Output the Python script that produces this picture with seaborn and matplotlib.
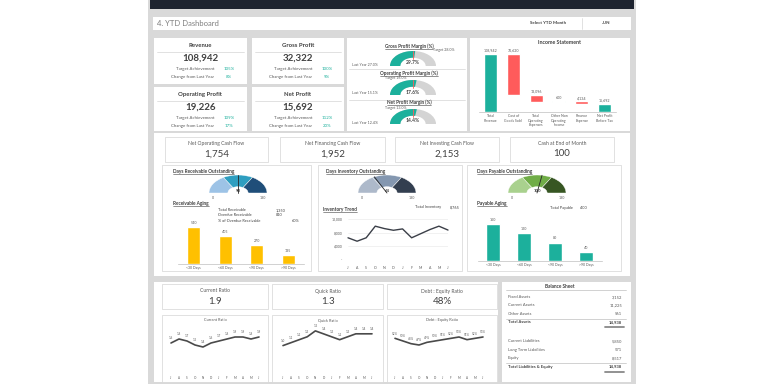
"""YTD finance dashboard, rebuilt with seaborn + matplotlib patches."""
import matplotlib
matplotlib.use("Agg")
import matplotlib.pyplot as plt
from matplotlib.patches import Rectangle, Wedge
import numpy as np
import pandas as pd
import seaborn as sns

sns.set_theme(style="white")
plt.rcParams["font.family"] = ["Lato", "DejaVu Sans"]

# ---- data -----------------------------------------------------------------
kpi_names = ["Revenue", "Gross Profit", "Operating Profit", "Net Profit"]
kpi_values = [108942, 32322, 19226, 15692]
kpi_target = [105, 100, 109, 112]
kpi_change = [8, 9, 17, 20]

margin_names = ["Gross Profit Margin (%)", "Operating Profit Margin (%)",
                "Net Profit Margin (%)"]
margin_actual = [29.7, 17.6, 14.4]
margin_target = [28.0, 16.0, 13.0]
margin_last = [27.0, 15.1, 12.4]

is_items = ["Total\nRevenue", "Cost of\nGoods Sold", "Total\nOperating\nExpenses",
            "Other Non\nOperating\nIncome", "Finance\nExpense", "Net Profit\nBefore Tax"]
is_amounts = [108942, -76620, -13096, 600, -4134, 15692]
is_is_total = [True, False, False, False, False, True]

cash_names = ["Net Operating Cash Flow", "Net Financing Cash Flow",
              "Net Investing Cash Flow", "Cash at End of Month"]
cash_values = [1754, 1952, 2153, 100]

aging_cats = ["<30 Days", "<60 Days", "<90 Days", ">90 Days"]
receivable_aging = [540, 405, 270, 135]
receivable_info = [("Total Receivable", "1,350"), ("Overdue Receivable", "810"),
                   ("% of Overdue Receivable", "60%")]
payable_aging = [160, 120, 80, 40]
total_payable = 400

dial_max = 180
dro_value, dio_value, dpo_value = 90, 64, 100

months = ["J", "A", "S", "O", "N", "D", "J", "F", "M", "A", "M", "J"]
inventory_trend = [6500, 5500, 6500, 9900, 9200, 8700, 9100, 6500, 7700, 8900, 9900, 8765]
total_inventory = 8765

ratio_names = ["Current Ratio", "Quick Ratio", "Debt : Equity Ratio"]
ratio_values = ["1.9", "1.3", "48%"]
current_ratio = [1.6, 1.8, 1.7, 1.5, 1.4, 1.6, 1.7, 1.8, 1.9, 1.9, 1.8, 1.9]
quick_ratio = [1.0, 1.1, 1.2, 1.3, 1.5, 1.4, 1.3, 1.2, 1.3, 1.4, 1.4, 1.4]
debt_equity = [52, 50, 48, 47, 49, 50, 51, 52, 53, 51, 52, 53]

bs_assets = [("Fixed Assets", 3152), ("Current Assets", 11225), ("Other Assets", 561)]
bs_total_assets = 14938
bs_liab = [("Current Liabilities", 5850), ("Long Term Liabilities", 571), ("Equity", 8517)]
bs_total_liab = 14938

# ---- style ----------------------------------------------------------------
TEAL, RED, GOLD = "#1cb09c", "#ff5b5b", "#ffc000"
BG, DARK, MID, LIGHT = "#d9d9d9", "#404040", "#595959", "#d4d4d4"
W, H = 768, 384

fig = plt.figure(figsize=(7.68, 3.84), dpi=100, facecolor="white")
bg = fig.add_axes([0, 0, 1, 1])
bg.set_xlim(0, W)
bg.set_ylim(H, 0)
bg.axis("off")


def box(x, y, w, h, fc="white", ec="none", lw=0.5):
    bg.add_patch(Rectangle((x, y), w, h, fc=fc, ec=ec, lw=lw))


def txt(x, y, s, size=3.5, color=MID, **kw):
    return bg.text(x, y, s, fontsize=size, color=color, va="center", **kw)


def hline(x0, x1, y, color=LIGHT, lw=0.5):
    bg.plot([x0, x1], [y, y], color=color, lw=lw)


def utxt(x, y, s, size=3.5, color=DARK, **kw):
    t = txt(x, y, s, size, color, **kw)
    bb = t.get_window_extent(renderer=fig.canvas.get_renderer())
    (x0, y0), (x1, y1) = bg.transData.inverted().transform(
        [[bb.x0, bb.y0], [bb.x1, bb.y1]])
    hline(x0, x1, max(y0, y1) + 0.4, color=color, lw=0.4)


def px_axes(x, y, w, h):
    return fig.add_axes([x / W, 1 - (y + h) / H, w / W, h / H])


def half_axes(cx, base, rx, ry):
    ax = px_axes(cx - rx, base - ry, 2 * rx, ry)
    ax.set_xlim(-1, 1)
    ax.set_ylim(0, 1)
    ax.axis("off")
    return ax


# ---- frame ----------------------------------------------------------------
box(148, 0, 488, 384, fc=BG)
box(150, 0, 484, 9, fc="#1e2430")
box(153, 17, 478, 13)
txt(157, 23.5, "4. YTD Dashboard", 5.5, "#7f7f7f")
txt(548, 23.5, "Select YTD Month", 3.2, DARK, ha="center", weight="bold")
bg.plot([582, 582], [18, 29], color=LIGHT, lw=0.5)
txt(606, 23.5, "JUN", 3.2, DARK, ha="center", weight="bold")

# ---- KPI cards --------------------------------------------------------------
cards = [(154, 38, 93, 46), (252, 38, 92, 46), (154, 87, 93, 44), (252, 87, 92, 44)]
for (x, y, w, h), name, val, tgt, chg in zip(cards, kpi_names, kpi_values,
                                             kpi_target, kpi_change):
    box(x, y, w, h)
    txt(x + w / 2, y + 7.5, name, 4.3, DARK, ha="center", weight="bold")
    hline(x + 3, x + w - 3, y + 14)
    txt(x + w / 2, y + 20.5, f"{val:,}", 7, DARK, ha="center", weight="bold")
    txt(x + 60, y + 31, "Target Achievement", 3.2, MID, ha="right")
    txt(x + 75, y + 31, f"{tgt}%", 3.2, TEAL, ha="center")
    txt(x + 60, y + 39, "Change from Last Year", 3.2, MID, ha="right")
    txt(x + 75, y + 39, f"{chg}%", 3.2, TEAL, ha="center")

# ---- margin gauges ----------------------------------------------------------
box(347, 38, 120, 93)
hline(349, 465, 68.5)
hline(349, 465, 99.5)
title_y = [46, 73, 102]
base_y = [66, 95, 124]
for i, (name, act, tgt, last) in enumerate(zip(margin_names, margin_actual,
                                               margin_target, margin_last)):
    utxt(409, title_y[i], name, 3.4, DARK, ha="center", weight="bold")
    ax = half_axes(413, base_y[i], 23, 15)
    frac = act / (2 * tgt)
    ax.add_patch(Wedge((0, 0), 1, 0, 180, width=0.45, fc=LIGHT, ec="none"))
    ax.add_patch(Wedge((0, 0), 1, 180 * (1 - frac), 180, width=0.45, fc=TEAL, ec="none"))
    ax.plot([0, 0], [0.5, 1.0], color=RED, lw=0.6)
    txt(413, base_y[i] - 3, f"{act:.1f}%", 3.6, DARK, ha="center", weight="bold")
    txt(352, base_y[i] - 1.5, f"Last Year {last:.1f}%", 2.6, MID)
    if i == 0:
        txt(433, base_y[i] - 15.5, f"Target {tgt:.1f}%", 2.6, MID)
    else:
        txt(406, base_y[i] - 16.5, f"Target {tgt:.1f}%", 2.6, MID, ha="right")

# ---- income statement waterfall ----------------------------------------------
box(470, 38, 160, 93)
txt(560, 42.5, "Income Statement", 3.8, DARK, ha="center", weight="bold")
bottoms, heights, running = [], [], 0
for amt, is_total in zip(is_amounts, is_is_total):
    if is_total:
        bottoms.append(0)
        heights.append(amt)
        running = amt
    else:
        new = running + amt
        bottoms.append(min(running, new))
        heights.append(abs(amt))
        running = new
wf = pd.DataFrame({"item": is_items, "height": heights, "bottom": bottoms})
ax = px_axes(479, 50, 137, 62)
sns.barplot(data=wf, x="item", y="height", bottom=wf["bottom"].values,
            color=TEAL, saturation=1, width=0.57, ax=ax)
for p, amt, is_total in zip(ax.patches, is_amounts, is_is_total):
    p.set_facecolor(TEAL if is_total or amt > 0 else RED)
for p, amt in zip(ax.patches, is_amounts):
    ax.text(p.get_x() + p.get_width() / 2, p.get_y() + p.get_height() + 2500,
            f"{abs(amt):,}", ha="center", va="bottom", fontsize=2.6, color=MID)
ax.set_ylim(0, 116500)
ax.set_xlim(-0.5, len(is_items) - 0.5)
ax.set_xlabel("")
ax.set_ylabel("")
ax.set_yticks([])
ax.tick_params(axis="x", labelsize=2.5, colors=MID, length=0, pad=1.5)
sns.despine(ax=ax, left=True)
ax.spines["bottom"].set_color("#bfbfbf")
ax.spines["bottom"].set_linewidth(0.5)
ax.patch.set_alpha(0)

# ---- cash flow + operating panels --------------------------------------------
box(154, 133, 476, 143)
cash_boxes = [(165, 137, 103, 25), (280, 137, 105, 25), (395, 137, 104, 25),
              (510, 137, 104, 25)]
for (x, y, w, h), name, val in zip(cash_boxes, cash_names, cash_values):
    box(x, y, w, h, ec=LIGHT)
    txt(x + w / 2, y + 6.5, name, 3.6, MID, ha="center")
    txt(x + w / 2, y + 17, f"{val:,}", 7, DARK, ha="center")

box(162, 165, 149, 106, ec=LIGHT)
box(318, 165, 144, 106, ec=LIGHT)
box(467, 165, 154, 106, ec=LIGHT)


def dial(cx, name_x, title, colors, value):
    utxt(name_x, 171, title, 3.4, DARK, weight="bold")
    ax = half_axes(cx, 193, 29, 18)
    edges = np.linspace(180, 0, len(colors) + 1)
    for c, a0, a1 in zip(colors, edges[:-1], edges[1:]):
        ax.add_patch(Wedge((0, 0), 1, a1, a0, width=0.65, fc=c, ec="white", lw=0.3))
    ang = np.deg2rad(180 * (1 - value / dial_max))
    ax.plot([0, np.cos(ang)], [0, np.sin(ang)], color="#262626", lw=0.6, clip_on=False)
    txt(cx, 191.5, f"{value}", 3.2, DARK, ha="center", weight="bold")
    txt(cx - 25, 198, "0", 2.6, MID, ha="center")
    txt(cx + 25, 198, f"{dial_max}", 2.6, MID, ha="center")


def aging_bars(x0, x1, y_base, vals, color, top):
    ax = px_axes(x0, y_base - 49, x1 - x0, 49)
    sns.barplot(x=aging_cats, y=vals, color=color, saturation=1, width=0.42, ax=ax)
    ax.bar_label(ax.containers[0], fontsize=2.6, color=MID, padding=1.5)
    ax.set_ylim(0, top)
    ax.set_yticks([])
    ax.tick_params(axis="x", labelsize=2.5, colors=MID, length=0, pad=1.5)
    sns.despine(ax=ax, left=True)
    ax.spines["bottom"].set_color("#bfbfbf")
    ax.spines["bottom"].set_linewidth(0.5)
    ax.patch.set_alpha(0)


# receivables
dial(238, 173, "Days Receivable Outstanding", ["#9dc3e6", "#2e9ec0", "#1f4e79"], dro_value)
utxt(173, 203, "Receivable Aging", 3.4, DARK, weight="bold")
for j, (lab, val) in enumerate(receivable_info):
    txt(218, 210 + j * 5.5, lab, 2.8, DARK)
    txt(276 if j < 2 else 292, 210 + j * 5.5, val, 2.8, DARK)
aging_bars(178, 304, 264, receivable_aging, GOLD, 715)

# inventory
dial(387, 326, "Days Inventory Outstanding", ["#adb9ca", "#8497b0", "#333f50"], dio_value)
utxt(323, 209, "Inventory Trend", 3.4, DARK, weight="bold")
txt(415, 207, "Total Inventory", 2.8, DARK)
txt(450, 207, f"{total_inventory:,}", 2.8, DARK)
ax = px_axes(348, 219, 100, 41)
sns.lineplot(x=np.arange(len(months)), y=inventory_trend, color="#3b3f48",
             lw=1.0, ax=ax)
ax.set_xlim(0, len(months) - 1)
ax.set_ylim(0, 12000)
ax.set_yticks([0, 4000, 8000, 12000])
ax.set_yticklabels(["-", "4,000", "8,000", "12,000"])
ax.set_xticks(np.arange(len(months)))
ax.set_xticklabels(months)
ax.tick_params(labelsize=2.5, colors=MID, length=0, pad=4)
ax.grid(axis="y", color="#e6e6e6", lw=0.4)
ax.set_axisbelow(True)
sns.despine(ax=ax, left=True, bottom=True)
ax.patch.set_alpha(0)
for ln in ax.lines:
    ln.set_clip_on(False)

# payables
dial(537, 477, "Days Payable Outstanding", ["#a9d18e", "#70ad47", "#375623"], dpo_value)
utxt(477, 203, "Payable Aging", 3.4, DARK, weight="bold")
txt(550, 208, "Total Payable", 2.8, DARK)
txt(580, 208, f"{total_payable:,}", 2.8, DARK)
aging_bars(477.5, 601.5, 261, payable_aging, TEAL, 212)

# ---- ratios -----------------------------------------------------------------
box(154, 282, 344, 100)
ratio_boxes = [(162, 284, 106, 25), (272, 284, 111, 25), (387, 284, 110, 25)]
for (x, y, w, h), name, val in zip(ratio_boxes, ratio_names, ratio_values):
    box(x, y, w, h, ec=LIGHT)
    txt(x + w / 2, y + 7, name, 3.6, MID, ha="center")
    txt(x + w / 2, y + 18, val, 7, DARK, ha="center")

line_boxes = [(162, 315, 106, 67), (272, 315, 111, 67), (387, 315, 110, 67)]
line_x = [(171, 259), (283, 372), (395, 483)]
series = [(current_ratio, (0, 2.5), "{:.1f}"), (quick_ratio, (0, 1.7), "{:.1f}"),
          (debt_equity, (24.5, 62), "{}%")]
for (bx, by, bw, bh), (x0, x1), name, (vals, lim, fmt) in zip(
        line_boxes, line_x, ratio_names, series):
    box(bx, by, bw, bh, ec=LIGHT)
    txt(bx + bw / 2, 320, name, 2.8, MID, ha="center")
    ax = px_axes(x0, 325, x1 - x0, 50)
    sns.lineplot(x=np.arange(len(vals)), y=vals, color="#4a4a4a", lw=1.2, ax=ax)
    for k, v in enumerate(vals):
        ax.annotate(fmt.format(v), (k, v), xytext=(0, 2), textcoords="offset points",
                    ha="center", va="bottom", fontsize=2.2, color=MID)
    ax.set_xlim(0, len(vals) - 1)
    ax.set_ylim(*lim)
    ax.set_yticks([])
    ax.set_xticks(np.arange(len(months)))
    ax.set_xticklabels(months)
    ax.tick_params(axis="x", labelsize=2.2, colors=MID, length=0, pad=1)
    sns.despine(ax=ax, left=True, bottom=True)
    ax.patch.set_alpha(0)
    for ln in ax.lines:
        ln.set_clip_on(False)

# ---- balance sheet ------------------------------------------------------------
box(502, 282, 129, 100)
txt(560, 286, "Balance Sheet", 3.4, DARK, ha="center", weight="bold")
hline(506, 626, 289.5, color="#bfbfbf")


def bs_block(rows, total_label, total, y0):
    for j, (lab, val) in enumerate(rows):
        txt(508, y0 + j * 8.3, lab, 3.0, MID)
        txt(622, y0 + j * 8.3, f"{val:,}", 3.0, MID, ha="right")
    yt = y0 + 3 * 8.3 + 0.5
    hline(506, 626, yt - 3.5, color="#bfbfbf")
    txt(508, yt, total_label, 3.0, DARK, weight="bold")
    txt(622, yt, f"{total:,}", 3.0, DARK, ha="right", weight="bold")
    hline(604, 624, yt + 4, color=DARK, lw=0.4)
    hline(604, 624, yt + 5, color=DARK, lw=0.4)


bs_block(bs_assets, "Total Assets", bs_total_assets, 297)
bs_block(bs_liab, "Total Liabilities & Equity", bs_total_liab, 341.5)

fig.savefig("out.png", dpi=100, facecolor="white")
